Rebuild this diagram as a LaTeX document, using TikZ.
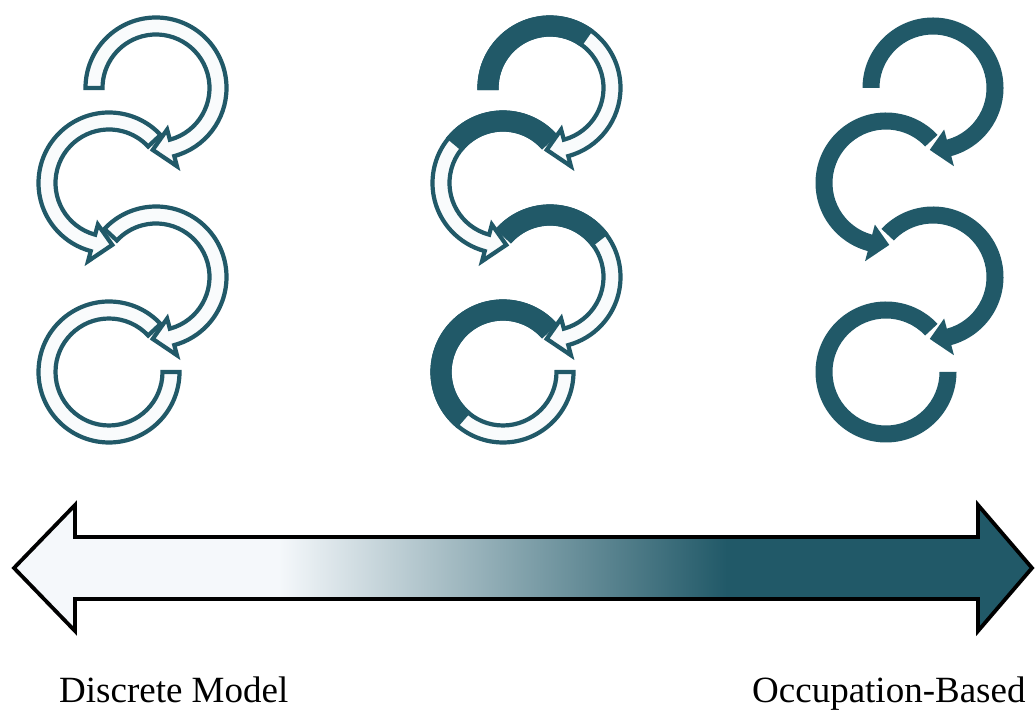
\documentclass[tikz,border=0pt]{standalone}
\usepackage{fontspec}
\setmainfont{Liberation Serif}
\usetikzlibrary{calc}
\definecolor{darkc}{RGB}{33,89,104}
\definecolor{lightc}{RGB}{245,248,251}
\definecolor{paperc}{RGB}{249,251,252}
\pgfdeclarehorizontalshading{barshade}{100bp}{color(0bp)=(lightc); color(38bp)=(lightc); color(60bp)=(darkc); color(100bp)=(darkc)}
% #1 centre, #2 start angle, #3 head base angle, #4 tip angle, #5 style
\newcommand{\headarrow}[5]{%
  \path[#5] ($(#1)+(#2:70.5)$) arc[start angle=#2,end angle=#3,radius=70.5]
    -- ($(#1)+(#3:81)$) -- ($(#1)+(#4:62)$) -- ($(#1)+(#3:43)$)
    -- ($(#1)+(#3:53.5)$) arc[start angle=#3,end angle=#2,radius=53.5] -- cycle;}
% #1 centre, #2 start angle, #3 end angle, #4 style
\newcommand{\bandarc}[4]{%
  \path[#4] ($(#1)+(#2:70.5)$) arc[start angle=#2,end angle=#3,radius=70.5]
    -- ($(#1)+(#3:53.5)$) arc[start angle=#3,end angle=#2,radius=53.5] -- cycle;}
\begin{document}
\begin{tikzpicture}[x=1pt,y=1pt,
  outl/.style={fill=paperc,draw=darkc,line width=4.2},
  darkpart/.style={fill=darkc,draw=darkc,line width=4.2},
  solidarrow/.style={fill=darkc},
  bar/.style={shading=barshade,draw=black,line width=3.8},
  lbl/.style={anchor=base west,inner sep=0pt,font=\fontsize{37}{41}\selectfont}]
\useasboundingbox (0,0) rectangle (1036,711);
\fill[white] (0,0) rectangle (1036,711);
\foreach \n/\X in {a/156,b/550,c/933}{
  \coordinate (\n1) at (\X,623);
  \coordinate (\n2) at (\X-47,528);
  \coordinate (\n3) at (\X,434);
  \coordinate (\n4) at (\X-47,339);
}
% column 1: outlined
\headarrow{a1}{180}{-75}{-93}{outl}
\headarrow{a2}{43}{255}{273}{outl}
\headarrow{a3}{137}{-75}{-93}{outl}
\bandarc{a4}{43}{360}{outl}
% column 2: half filled
\headarrow{b1}{180}{-75}{-93}{outl}
\headarrow{b2}{43}{255}{273}{outl}
\headarrow{b3}{137}{-75}{-93}{outl}
\bandarc{b4}{43}{360}{outl}
\bandarc{b1}{180}{55}{darkpart}
\bandarc{b2}{43}{140}{darkpart}
\bandarc{b3}{137}{38}{darkpart}
\bandarc{b4}{43}{229}{darkpart}
% column 3: solid
\headarrow{c1}{180}{-75}{-93}{solidarrow}
\headarrow{c2}{43}{255}{273}{solidarrow}
\headarrow{c3}{137}{-75}{-93}{solidarrow}
\bandarc{c4}{43}{360}{solidarrow}
% double arrow
\path[bar] (14,143) -- (75,206) -- (75,174) -- (978,174) -- (978,206) -- (1032,143)
  -- (978,80) -- (978,112) -- (75,112) -- (75,80) -- cycle;
\node[lbl] (lblL) at (59,8) {Discrete Model};
\node[lbl] (lblR) at (752,8) {Occupation-Based};
\end{tikzpicture}
\end{document}
